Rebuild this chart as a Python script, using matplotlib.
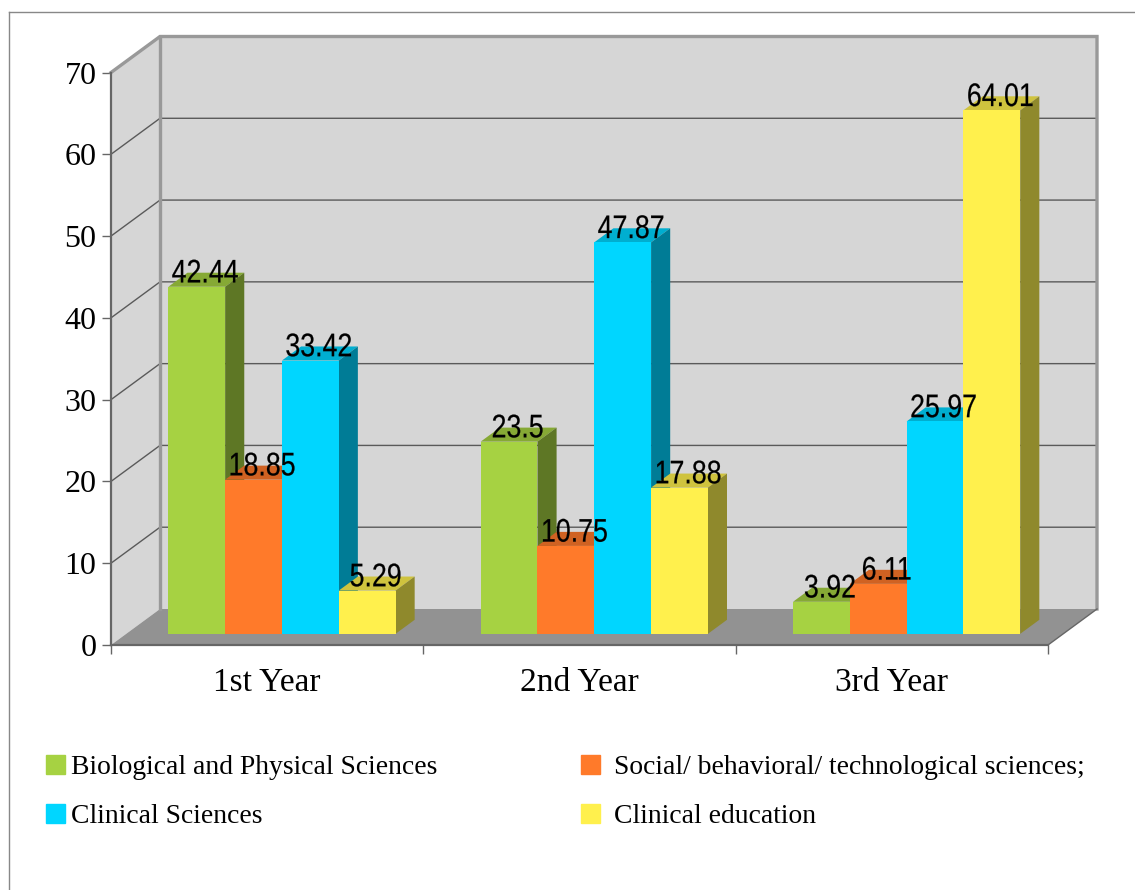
import matplotlib
matplotlib.use("Agg")
import numpy as np
import matplotlib.pyplot as plt
from matplotlib.patches import Patch
from matplotlib.patheffects import AbstractPathEffect
from matplotlib.transforms import Affine2D

# --- data ---
years = ["1st Year", "2nd Year", "3rd Year"]
series_names = [
    "Biological and Physical Sciences",
    "Social/ behavioral/ technological sciences;",
    "Clinical Sciences",
    "Clinical education",
]
biological = [42.44, 23.5, 3.92]
social = [18.85, 10.75, 6.11]
clinical_sci = [33.42, 47.87, 25.97]
clinical_edu = [5.29, 17.88, 64.01]
series_values = [biological, social, clinical_sci, clinical_edu]
y_ticks = [0, 10, 20, 30, 40, 50, 60, 70]

front_colors = ["#a6d242", "#ff7a2a", "#00d6ff", "#fff04d"]
top_colors = ["#86a935", "#d06222", "#00aed0", "#cfc33e"]
side_colors = ["#5e7725", "#8f4518", "#007c96", "#8f892c"]

W, H = 1135, 890
SERIF = "Liberation Serif"


class Squeeze(AbstractPathEffect):
    """Narrows text around its middle, there is no condensed font installed."""

    def __init__(self, sx, stroke=0.15):
        super().__init__()
        self.sx = sx
        self.stroke = stroke

    def draw_path(self, renderer, gc, tpath, affine, rgbFace=None):
        box = tpath.get_extents()
        cx = (box.x0 + box.x1) / 2
        squeeze = Affine2D().translate(-cx, 0).scale(self.sx, 1).translate(cx, 0)
        gc0 = renderer.new_gc()
        gc0.copy_properties(gc)
        gc0.set_foreground("black")
        gc0.set_linewidth(self.stroke)
        renderer.draw_path(gc0, tpath, squeeze + affine, rgbFace)
        gc0.restore()


fig = plt.figure(figsize=(W / 100, H / 100), dpi=100)
ax = fig.add_axes([111 / W, (H - 645) / H, 937 / W, 572.5 / H])
ax.set_xlim(0, 3)
ax.set_ylim(0, 70)
ax.patch.set_visible(False)

# depth of the 3d box in data units (49 px right, 36 px up)
PX_X = 937 / 3
PX_Y = 572.5 / 70
DX = 49 / PX_X
DY = 36 / PX_Y
# bars sit between these two depths
D0, D1 = 0.31, 0.70


def proj(x, v, d):
    return x + d * DX, v + d * DY


def face(points, **kw):
    xs, ys = zip(*[proj(*p) for p in points])
    ax.fill(xs, ys, clip_on=False, **kw)


# walls and floor
face([(0, 0, 1), (3, 0, 1), (3, 70, 1), (0, 70, 1)], color="#d6d6d6", lw=0, zorder=1)
face([(0, 0, 0), (0, 0, 1), (0, 70, 1), (0, 70, 0)], color="#d6d6d6", lw=0, zorder=1)
face([(0, 0, 0), (3, 0, 0), (3, 0, 1), (0, 0, 1)], color="#929292", lw=0, zorder=1)

# gridlines on the back and side wall
for v in y_ticks[1:-1]:
    xs, ys = zip(proj(0, v, 0), proj(0, v, 1), proj(3, v, 1))
    ax.plot(xs, ys, color="#5a5a5a", lw=1.0, clip_on=False, zorder=2)

# wall outlines
xs, ys = zip(proj(0, 70, 0), proj(0, 70, 1), proj(3, 70, 1), proj(3, 0, 1))
ax.plot(xs, ys, color="#999999", lw=2.4, clip_on=False, zorder=2, solid_joinstyle="miter")
xs, ys = zip(proj(0, 0, 1), proj(0, 70, 1))
ax.plot(xs, ys, color="#999999", lw=2.4, clip_on=False, zorder=2)
xs, ys = zip(proj(3, 0, 0), proj(3, 0, 1))
ax.plot(xs, ys, color="#666666", lw=1.0, clip_on=False, zorder=2)

# bars, drawn left to right so each one covers the side of the one before
bar_w = 56.8 / PX_X
group_start = 0.135
z = 3
for g in range(len(years)):
    for s in range(len(series_values)):
        val = series_values[s][g]
        x0 = g + group_start + s * bar_w
        x1 = x0 + bar_w
        face([(x0, val, D0), (x1, val, D0), (x1, val, D1), (x0, val, D1)],
             color=top_colors[s], lw=0, zorder=z)
        face([(x1, 0, D0), (x1, 0, D1), (x1, val, D1), (x1, val, D0)],
             color=side_colors[s], lw=0, zorder=z)
        fx, fy = proj(x0, 0, D0)
        ax.bar(fx, val, bar_w, bottom=fy, align="edge", color=front_colors[s],
               lw=0, zorder=z + 0.1, clip_on=False)
        z += 1

# value labels go over all the bars
for g in range(len(years)):
    for s in range(len(series_values)):
        val = series_values[s][g]
        x0 = g + group_start + s * bar_w
        lx, _ = proj(x0 + bar_w / 2, val, (D0 + D1) / 2)
        _, ly = proj(x0, val, D0)
        ax.text(lx - 1 / PX_X, ly + 4.3 / PX_Y, f"{val:g}", family="Liberation Sans", fontsize=23.5,
                color="black", ha="center", va="baseline", zorder=50,
                path_effects=[Squeeze(0.82)])

# axes
for name in ("top", "right"):
    ax.spines[name].set_visible(False)
for name in ("left", "bottom"):
    ax.spines[name].set_color("#666666")
    ax.spines[name].set_linewidth(1.6)
    ax.spines[name].set_zorder(2.5)

ax.set_yticks(y_ticks)
ax.set_xticks([0, 1, 2, 3])
ax.set_xticklabels([])
ax.set_xticks([0.5, 1.5, 2.5], labels=years, minor=True)
ax.tick_params(axis="y", length=6.5, width=1, color="#666666", pad=4, labelsize=23)
ax.tick_params(axis="x", which="major", length=6.5, width=1, color="#666666")
ax.tick_params(axis="x", which="minor", length=0, pad=16, labelsize=24)
for lab in ax.get_yticklabels() + ax.get_xticklabels(minor=True):
    lab.set_family(SERIF)

# legend, two separate columns since their swatch gaps differ
handles = [Patch(color=c) for c in front_colors]
leg_kw = dict(frameon=False, prop={"family": SERIF, "size": 19.9}, borderpad=0, borderaxespad=0,
              handlelength=0.69, handleheight=0.69, labelspacing=0.85, loc="upper left",
              bbox_transform=fig.transFigure)
leg1 = fig.legend(handles[0::2], series_names[0::2], handletextpad=0.22,
                  bbox_to_anchor=(46 / W, (H - 755) / H), **leg_kw)
leg2 = fig.legend(handles[1::2], series_names[1::2], handletextpad=0.5,
                  bbox_to_anchor=(581 / W, (H - 755) / H), **leg_kw)

# page frame, top and left edge only
fig.add_artist(plt.Line2D([9 / W, 9 / W], [0, (H - 12) / H], color="#888888", lw=1))
fig.add_artist(plt.Line2D([9 / W, 1], [(H - 12) / H, (H - 12) / H], color="#888888", lw=1))

fig.savefig("out.png", dpi=100)
